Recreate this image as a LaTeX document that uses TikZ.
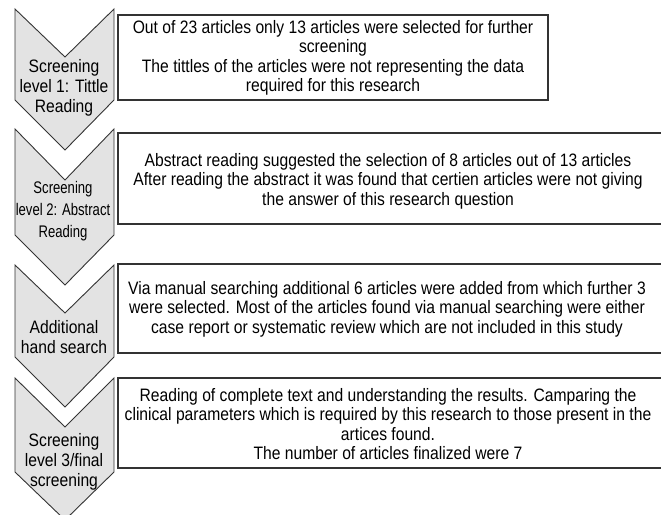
\documentclass[tikz,border=0pt]{standalone}
\usepackage{fontspec}
\setmainfont[FakeStretch=0.87]{Liberation Sans}
\newfontfamily\narrowf[FakeStretch=0.78]{Liberation Sans}
\begin{document}
\begin{tikzpicture}[x=1pt,y=-1pt,
  chev/.style={fill=black!11,draw=black!80,line width=0.9pt,line join=miter},
  tbox/.style={draw=black!80,line width=1.2pt},
  btext/.style={align=center,font=\fontsize{18}{19.5}\selectfont,inner sep=0pt},
  ctext/.style={align=center,font=\fontsize{18}{20}\selectfont,inner sep=0pt},
  ctexttwo/.style={align=center,font=\narrowf\fontsize{16.8}{22}\selectfont,inner sep=0pt}]
\useasboundingbox (0,0) rectangle (661,514);
% chevrons
\draw[chev] (15,9) -- (65,57) -- (114,9) -- (114,100) -- (65,150) -- (15,100) -- cycle;
\draw[chev] (15,129) -- (65,180) -- (114,129) -- (114,235) -- (65,285) -- (15,235) -- cycle;
\draw[chev] (15,265) -- (65,313) -- (114,265) -- (114,357) -- (65,407) -- (15,357) -- cycle;
\draw[chev] (15,378) -- (65,427) -- (114,378) -- (114,472) -- (65,520) -- (15,472) -- cycle;
\node[ctext] (c1) at (64,88) {Screening\\level 1: Tittle\\Reading};
\node[ctexttwo] (c2) at (63,211) {Screening\\level 2: Abstract\\Reading};
\node[ctext] (c3) at (64,337) {Additional\\hand search};
\node[ctext] (c4) at (64,462) {Screening\\level 3/final\\screening};
% boxes
\draw[tbox] (118,15) rectangle (548,100);
\draw[tbox] (118,133) rectangle (666,224);
\draw[tbox] (118,264) rectangle (666,353);
\draw[tbox] (118,378) rectangle (666,468);
\node[btext] (b1) at (333,58) {Out of 23 articles only 13 articles were selected for further\\screening\\The tittles of the articles were not representing the data\\required for this research};
\node[btext] (b2) at (388,181) {Abstract reading suggested the selection of 8 articles out of 13 articles\\After reading the abstract it was found that certien articles were not giving\\the answer of this research question};
\node[btext] (b3) at (387,309) {Via manual searching additional 6 articles were added from which further 3\\were selected. Most of the articles found via manual searching were either\\case report or systematic review which are not included in this study};
\node[btext] (b4) at (388,424) {Reading of complete text and understanding the results. Camparing the\\clinical parameters which is required by this research to those present in the\\artices found.\\The number of articles finalized were 7};
\end{tikzpicture}
\end{document}
